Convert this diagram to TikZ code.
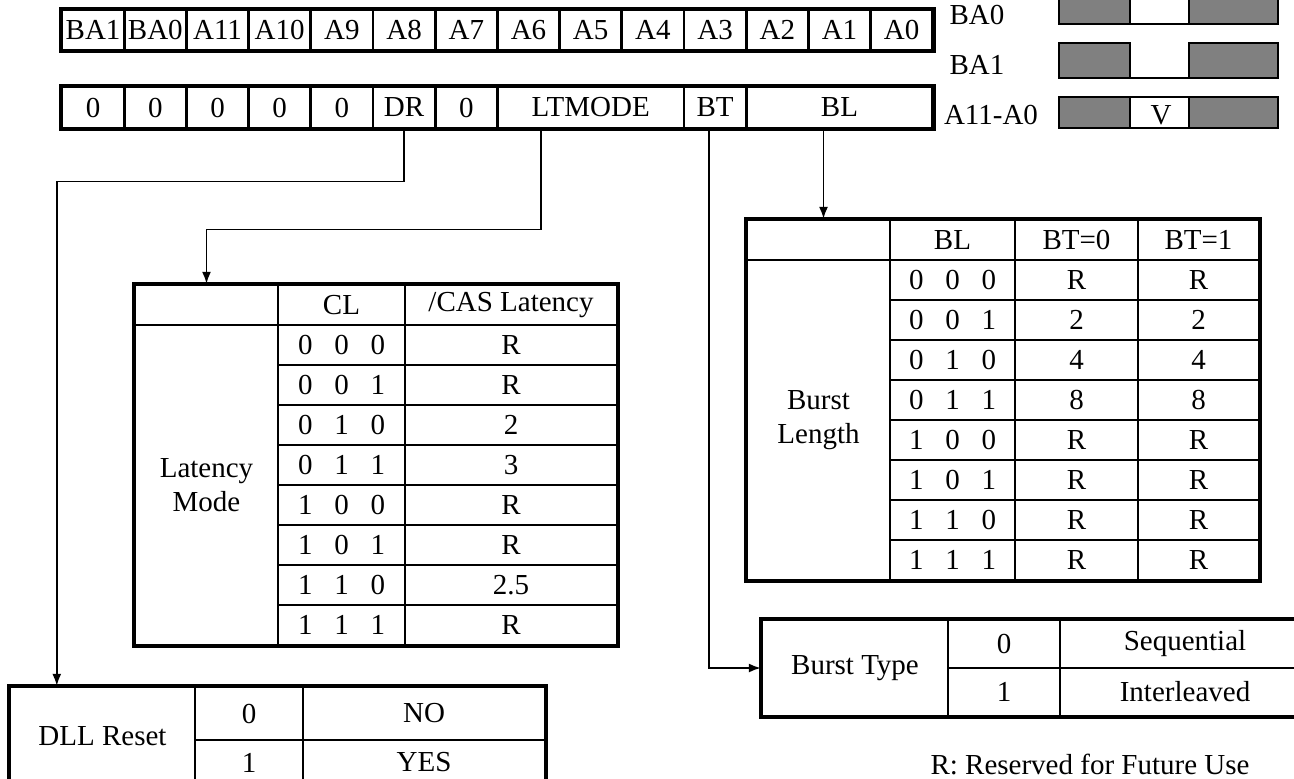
\documentclass[tikz,border=0pt]{standalone}
\usepackage{fontspec}
\setmainfont{Liberation Serif}
\usetikzlibrary{positioning}
\usetikzlibrary{arrows.meta}
\tikzset{
every node/.style={font=\fontsize{14.5}{17}\selectfont}, % Times-like text
regcell/.style={draw, line width=1.4pt, inner sep=0pt, minimum width=31.1pt, minimum height=20pt},
tcell/.style={draw, line width=1.2pt, inner sep=0pt, align=center},
frame/.style={draw, line width=1.7pt},
shade/.style={draw, line width=1.4pt, fill=black!50},
wire/.style={draw, line width=0.85pt, -{Latex[length=6pt,width=4.5pt]}}}
\newcommand{\bits}[3]{#1\hspace{0.75em}#2\hspace{0.75em}#3}
\newcommand{\tabcell}[6]{\node[tcell, minimum width={((#4)-(#2))*0.5pt}, minimum height={((#5)-(#3))*0.5pt}] (#1) at ({((#2)+(#4))/2},{((#3)+(#5))/2}) {#6};}

\begin{document}
\begin{tikzpicture}[x=0.5pt, y=-0.5pt]
\clip (0,0) rectangle (1294,778);
% address bits
\foreach \lab [count=\i from 0] in {BA1,BA0,A11,A10,A9,A8,A7,A6,A5,A4,A3,A2,A1,A0}
  \node[regcell] (a\i) at ({93.1+62.2*\i},30) {\lab};
\draw[frame] (a0.north west) rectangle (a13.south east);
% mode register fields
\foreach \lab [count=\i from 0] in {0,0,0,0,0,DR,0}
  \node[regcell, minimum height=20.5pt] (m\i) at ({93.1+62.2*\i},107.5) {\lab};
\node[regcell, minimum width=93.3pt, minimum height=20.5pt] (ltmode) at (590.7,107.5) {LTMODE};
\node[regcell, minimum height=20.5pt] (bt) at (715.1,107.5) {BT};
\node[regcell, minimum width=93.3pt, minimum height=20.5pt] (bl) at (839.5,107.5) {BL};
\draw[frame] (m0.north west) rectangle (bl.south east);
% timing of the bank and address lines
\node (wba0) at (977,15) {BA0};
\node (wba1) at (977,65) {BA1};
\node (waddr) at (991,115) {A11-A0};
\draw[shade] (1059,-5) rectangle (1130,24);
\draw[shade] (1189,-5) rectangle (1278,24);
\draw[line width=1pt] (1130,24) -- (1189,24);
\draw[shade] (1059,43) rectangle (1130,78);
\draw[shade] (1189,43) rectangle (1278,78);
\draw[line width=1pt] (1130,78) -- (1189,78);
\draw[shade] (1059,97) rectangle (1130,128);
\draw[shade] (1189,97) rectangle (1278,128);
\draw[line width=1pt] (1130,97) -- (1189,97) (1130,128) -- (1189,128);
\node (vval) at (1161,115) {V};
% CAS latency table
\tabcell{clh0}{135}{285}{278}{325}{}
\tabcell{clh1}{278}{285}{405}{325}{CL}
\tabcell{clh2}{405}{285}{617}{325}{/CAS Latency}
\tabcell{clm}{135}{325}{278}{645}{Latency\\Mode}
\foreach \b/\v [count=\k] in {000/R,001/R,010/2,011/3,100/R,101/R,110/2.5,111/R} {
  \tabcell{clc\k}{278}{285+40*\k}{405}{325+40*\k}{\expandafter\bits\b}
  \tabcell{clv\k}{405}{285+40*\k}{617}{325+40*\k}{\v}
}
\draw[frame] (clh0.north west) rectangle (clv8.south east);
% burst length table
\tabcell{blh0}{747}{220}{890}{260}{}
\tabcell{blh1}{890}{220}{1015}{260}{BL}
\tabcell{blh2}{1015}{220}{1138}{260}{BT=0}
\tabcell{blh3}{1138}{220}{1259}{260}{BT=1}
\tabcell{blm}{747}{260}{890}{580}{Burst\\Length}
\foreach \b/\v [count=\k] in {000/R,001/2,010/4,011/8,100/R,101/R,110/R,111/R} {
  \tabcell{blc\k}{890}{220+40*\k}{1015}{260+40*\k}{\expandafter\bits\b}
  \tabcell{blv\k}{1015}{220+40*\k}{1138}{260+40*\k}{\v}
  \tabcell{blw\k}{1138}{220+40*\k}{1259}{260+40*\k}{\v}
}
\draw[frame] (blh0.north west) rectangle (blw8.south east);
% burst type table
\tabcell{btm}{762}{620}{948}{716}{Burst Type}
\tabcell{bt0}{948}{620}{1060}{668}{0}
\tabcell{bt0v}{1060}{620}{1310}{668}{Sequential}
\tabcell{bt1}{948}{668}{1060}{716}{1}
\tabcell{bt1v}{1060}{668}{1310}{716}{Interleaved}
\draw[frame] (btm.north west) rectangle (bt1v.south east);
% DLL reset table
\tabcell{dll0}{10}{687}{195}{785}{DLL Reset}
\tabcell{dll1}{195}{687}{303}{740}{0}
\tabcell{dll1v}{303}{687}{545}{740}{NO}
\tabcell{dll2}{195}{740}{303}{785}{1}
\tabcell{dll2v}{303}{740}{545}{785}{YES}
\draw[frame] (dll0.north west) rectangle (dll2v.south east);
\node (note) at (1090,764) {R: Reserved for Future Use};
% field connectors
\draw[wire] (m5.south) -- ++(0,52) -| ([xshift=24pt]dll0.north west);
\draw[wire] ([xshift=-25pt]ltmode.south) -- ++(0,100) -| (clh0.north);
\draw[wire] ([xshift=-3pt]bt.south) |- (btm.west);
\draw[wire] ([xshift=2.5pt]blh0.north |- bl.south) -- ([xshift=2.5pt]blh0.north);
\end{tikzpicture}
\end{document}
